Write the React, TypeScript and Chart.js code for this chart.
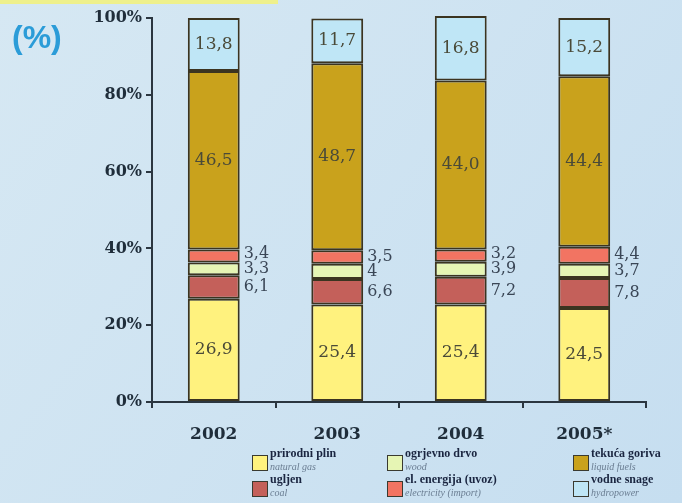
import React, { useEffect, useRef } from "react";
import { Chart, registerables } from "chart.js";

Chart.register(...registerables);

const years = ["2002", "2003", "2004", "2005*"];
const naturalGas = [26.9, 25.4, 25.4, 24.5];
const coal = [6.1, 6.6, 7.2, 7.8];
const wood = [3.3, 4, 3.9, 3.7];
const electricity = [3.4, 3.5, 3.2, 4.4];
const liquidFuels = [46.5, 48.7, 44.0, 44.4];
const hydro = [13.8, 11.7, 16.8, 15.2];

const namesHr = ["prirodni plin", "ugljen", "ogrjevno drvo", "el. energija (uvoz)", "tekuća goriva", "vodne snage"];
const namesEn = ["natural gas", "coal", "wood", "electricity (import)", "liquid fuels", "hydropower"];
const colors = ["#fff27e", "#c4605a", "#e6f5b4", "#f27462", "#c9a21c", "#bfe6f6"];
const insideLabel = [true, false, false, false, true, true];

const fmt = (v: number) => (Number.isInteger(v) && v < 10 ? String(v) : v.toFixed(1)).replace(".", ",");

const bgPlugin = {
  id: "bg",
  beforeDraw(chart: any) {
    const { ctx, width, height } = chart;
    ctx.save();
    const g = ctx.createLinearGradient(0, 0, width, height);
    g.addColorStop(0, "#d6e8f3");
    g.addColorStop(1, "#c6def0");
    ctx.fillStyle = g;
    ctx.fillRect(0, 0, width, height);
    ctx.fillStyle = "#eef08c";
    ctx.fillRect(0, 0, 278, 4);
    ctx.fillStyle = "#2b9cd8";
    ctx.font = "bold 32px 'Liberation Sans'";
    ctx.textBaseline = "alphabetic";
    ctx.textAlign = "left";
    ctx.fillText("(%)", 12, 48);
    ctx.restore();
  },
};

const labelPlugin = {
  id: "vals",
  afterDatasetsDraw(chart: any) {
    const { ctx } = chart;
    ctx.save();
    ctx.textBaseline = "middle";
    const n = chart.data.labels.length;
    for (let j = 0; j < n; j++) {
      const outs: { y: number; text: string; x: number }[] = [];
      chart.data.datasets.forEach((ds: any, i: number) => {
        const el = chart.getDatasetMeta(i).data[j];
        if (!el) return;
        const cy = (el.y + el.base) / 2;
        const text = fmt(ds.data[j]);
        if (insideLabel[i]) {
          ctx.font = "17px 'DejaVu Serif'";
          ctx.fillStyle = "#4a4a38";
          ctx.textAlign = "center";
          ctx.fillText(text, el.x, cy);
        } else {
          outs.push({ y: cy, text, x: el.x + el.width / 2 + 4 });
        }
      });
      for (let k = 1; k < outs.length; k++) {
        if (outs[k - 1].y - outs[k].y < 15) outs[k].y = outs[k - 1].y - 15;
      }
      ctx.font = "16px 'DejaVu Serif'";
      ctx.fillStyle = "#3a4656";
      ctx.textAlign = "left";
      outs.forEach((o) => ctx.fillText(o.text, o.x, o.y));
    }
    ctx.restore();
  },
  afterDraw(chart: any) {
    const { ctx } = chart;
    ctx.save();
    const cols = [252, 387, 573];
    const rows = [454, 480];
    for (let i = 0; i < namesHr.length; i++) {
      const c = Math.floor(i / 2);
      const r = i % 2;
      const x = cols[c];
      const y = rows[r];
      ctx.fillStyle = colors[i];
      ctx.fillRect(x, y + 1, 15, 15);
      ctx.strokeStyle = "#3a3a30";
      ctx.lineWidth = 1;
      ctx.strokeRect(x + 0.5, y + 1.5, 15, 15);
      ctx.textAlign = "left";
      ctx.textBaseline = "middle";
      ctx.fillStyle = "#1a2540";
      ctx.font = "bold 12px 'Liberation Serif'";
      ctx.fillText(namesHr[i], x + 18, y);
      ctx.fillStyle = "#6a7d92";
      ctx.font = "italic 10px 'Liberation Serif'";
      ctx.fillText(namesEn[i], x + 18, y + 13);
    }
    ctx.restore();
  },
};

export default function App() {
  const ref = useRef<HTMLCanvasElement>(null);
  useEffect(() => {
    document.body.style.margin = "0";
    const series = [naturalGas, coal, wood, electricity, liquidFuels, hydro];
    const chart = new Chart(ref.current as HTMLCanvasElement, {
      type: "bar",
      data: {
        labels: years,
        datasets: series.map((d, i) => ({
          label: namesHr[i],
          data: d,
          backgroundColor: colors[i],
          borderColor: "#3b3420",
          borderWidth: 2,
          borderSkipped: false,
          barPercentage: 0.42,
          categoryPercentage: 1,
          clip: false,
        })),
      },
      options: {
        animation: false,
        responsive: true,
        maintainAspectRatio: false,
        layout: { padding: { top: 18, right: 36, bottom: 0, left: 0 } },
        plugins: { legend: { display: false }, tooltip: { enabled: false } },
        scales: {
          x: {
            stacked: true,
            afterFit: (s: any) => {
              s.height = 101;
            },
            grid: { drawOnChartArea: false, tickLength: 6, color: "#2b3640", lineWidth: 2 },
            border: { display: true, color: "#2b3640", width: 2 },
            ticks: { padding: 16, color: "#1f2d3a", font: { family: "'DejaVu Serif'", weight: "bold", size: 17 } },
          },
          y: {
            stacked: true,
            min: 0,
            max: 100,
            afterFit: (s: any) => {
              s.width = 152;
            },
            grid: { drawOnChartArea: false, tickLength: 6, color: "#2b3640", lineWidth: 2 },
            border: { display: true, color: "#2b3640", width: 2 },
            ticks: {
              stepSize: 20,
              padding: 4,
              color: "#1f2d3a",
              font: { family: "'DejaVu Serif'", weight: "bold", size: 16 },
              callback: (v: any) => v + "%",
            },
          },
        },
      },
      plugins: [bgPlugin, labelPlugin],
    });
    return () => chart.destroy();
  }, []);
  return (
    <div style={{ position: "absolute", left: 0, top: 0, width: 682, height: 503 }}>
      <canvas ref={ref} />
    </div>
  );
}
